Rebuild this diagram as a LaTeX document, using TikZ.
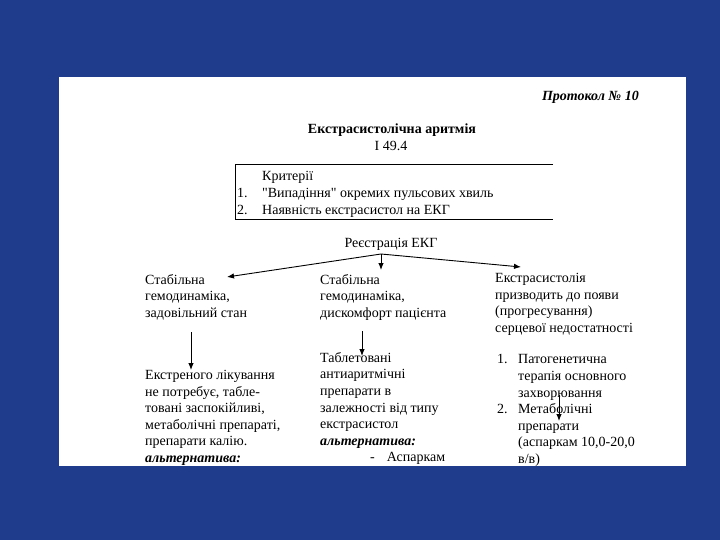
\documentclass[tikz,border=0pt]{standalone}
\usepackage{fontspec}
\setmainfont{Liberation Serif}
\newfontfamily\plainserif{Liberation Serif}
\usetikzlibrary{arrows.meta,calc}
\usepackage{xcolor}
\definecolor{slideblue}{HTML}{1F3B8C}
\newcommand{\bodyfont}{\fontsize{14}{16.6}\selectfont}
\newcommand{\qt}{{\plainserif"}}

\begin{document}
\begin{tikzpicture}[
    x=1pt, y=-1pt,
    txt/.style={font=\bodyfont, align=left, inner sep=0pt, anchor=north west},
    head/.style={font=\bodyfont\bfseries, inner sep=0pt},
    arrow/.style={-{Latex[length=7pt,width=5.5pt]}, line width=0.9pt}
]
\fill[slideblue] (0,0) rectangle (720,540);
\fill[white] (59,77) rectangle (686,466);
\useasboundingbox (0,0) rectangle (720,540);

% heading
\node[head, font=\bodyfont\bfseries\itshape, anchor=east] (proto) at (639,97) {Протокол № 10};
\node[head] (title) at (392,130) {Екстрасистолічна аритмія};
\node[txt, anchor=center] (code) at (391,146) {I 49.4};

% criteria box
\node[txt] (crit) at (237,169) {\begin{tabular}{@{}p{25pt}@{}l@{}}
 & Критерії\\
1. & \qt Випадіння\qt{} окремих пульсових хвиль\\
2. & Наявність екстрасистол на ЕКГ
\end{tabular}};
\draw[line width=0.9pt] (553,164) -- (235,164) -- (235,219) -- (553,219);

% ECG and branches
\node[txt, anchor=center] (ecg) at (391,244) {Реєстрація ЕКГ};
\coordinate (fork) at (381,254);
\node[txt] (stab) at (145,274) {Стабільна\\гемодинаміка,\\задовільний стан};
\node[txt] (disc) at (320,274) {Стабільна\\гемодинаміка,\\дискомфорт пацієнта};
\node[txt] (heart) at (495,273) {Екстрасистолія\\призводить до появи\\(прогресування)\\серцевої недостатності};

\coordinate (stabtip) at (227,277);
\coordinate (disctip) at (381,270);
\coordinate (hearttip) at (521,267);
\draw[arrow] (fork) -- (stabtip);
\draw[arrow] (fork) -- (disctip);
\draw[arrow] (fork) -- (hearttip);

% treatment
\node[txt] (urg) at (145,370) {Екстреного лікування\\не потребує, табле-\\товані заспокійливі,\\метаболічні препараті,\\препарати калію.\\{\bfseries\itshape альтернатива:}};
\node[txt] (tab) at (320,352) {Таблетовані\\антиаритмічні\\препарати в\\залежності від типу\\екстрасистол\\{\bfseries\itshape альтернатива:}\\\hspace*{50pt}-\hspace{12pt}Аспаркам};
\node[txt] (patho) at (497,352) {\begin{tabular}{@{}p{21pt}@{}l@{}}
1. & Патогенетична\\
 & терапія основного\\
 & захворювання\\
2. & Метаболічні\\
 & препарати\\
 & (аспаркам 10,0-20,0\\
 & в/в)
\end{tabular}};

\coordinate (stabout) at (191,332);
\coordinate (discout) at (362,331);
\coordinate (heartout) at (559,395);
\draw[arrow] (stabout) -- (stabout |- urg.north);
\draw[arrow] (discout) -- ($(discout |- tab.north)+(0,4)$);
\draw[arrow] (heartout) -- ++(0,26);
\end{tikzpicture}
\end{document}
